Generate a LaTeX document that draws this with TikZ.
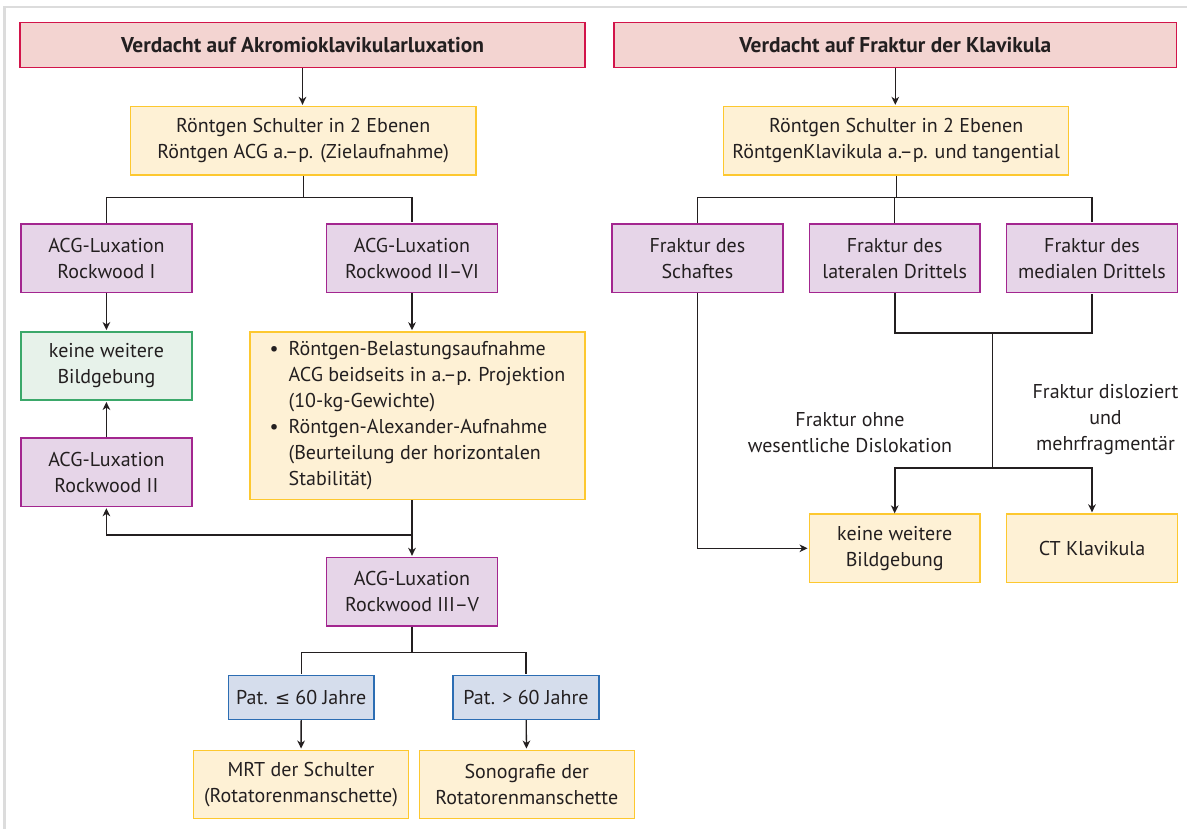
\documentclass[tikz,border=0pt]{standalone}
\usepackage{fontspec}
\setmainfont{PT Sans}
\newfontfamily\symfont{DejaVu Sans}
\usetikzlibrary{arrows.meta, positioning}
\definecolor{ink}{HTML}{231F20}
\definecolor{pinkfill}{HTML}{F3D4D1}
\definecolor{pinkline}{HTML}{D2144A}
\definecolor{yelfill}{HTML}{FEF1D5}
\definecolor{yelline}{HTML}{FDC82F}
\definecolor{purfill}{HTML}{E6D5E8}
\definecolor{purline}{HTML}{A3268F}
\definecolor{grnfill}{HTML}{E7F2EA}
\definecolor{grnline}{HTML}{3BA86A}
\definecolor{blufill}{HTML}{D5DDEC}
\definecolor{bluline}{HTML}{2C6DB3}
\definecolor{framegray}{HTML}{DCDCDC}

\begin{document}
\begin{tikzpicture}[x=0.5pt,y=-0.5pt,->,>={Stealth[length=4pt,width=3.8pt,inset=1.2pt]},
  shorten >=0.5pt,line width=0.65pt,color=ink,
  box/.style={draw,line width=0.75pt,align=center,text=ink,inner sep=2pt,
    font=\fontsize{10}{13}\selectfont,minimum height=34.2pt},
  head node/.style={box,fill=pinkfill,draw=pinkline,minimum height=22.3pt,
    font=\fontsize{10.7}{13}\selectfont\bfseries},
  xray node/.style={box,fill=yelfill,draw=yelline},
  type node/.style={box,fill=purfill,draw=purline,minimum width=85.4pt},
  none node/.style={box,fill=grnfill,draw=grnline,minimum width=85.4pt},
  age node/.style={box,fill=blufill,draw=bluline,minimum width=72.8pt,minimum height=22pt},
  label node/.style={align=center,text=ink,font=\fontsize{10}{13}\selectfont}]
  \useasboundingbox (0,0) rectangle (1188,829);
  \draw[-,framegray,line width=1.2pt] (4.5,829) -- (4.5,7) -- (1188,7);

  \node[head node, minimum width=282.5pt] (tl) at (302.5,45) {Verdacht auf Akromioklavikularluxation};
  \node[xray node, minimum width=172.8pt] (yl) at (303.2,140.8) {Röntgen Schulter in 2 Ebenen\\Röntgen ACG a.–p. (Zielaufnahme)};
  \node[type node] (r1) at (106.4,258.2) {ACG-Luxation\\Rockwood I};
  \node[type node] (r26) at (412,258.2) {ACG-Luxation\\Rockwood II–VI};
  \node[none node] (kw) at (106.4,366) {keine weitere\\Bildgebung};
  \node[type node] (r2) at (106.4,472.3) {ACG-Luxation\\Rockwood II};
  \node[xray node, minimum width=167.3pt, minimum height=83.7pt] (ax) at (417.5,415.7)
    {\begin{tabular}{@{}l@{\hspace{5pt}}l@{}}
     \textbullet & Röntgen-Belastungsaufnahme\\
     & ACG beidseits in a.–p. Projektion\\
     & (10-kg-Gewichte)\\
     \textbullet & Röntgen-Alexander-Aufnahme\\
     & (Beurteilung der horizontalen\\
     & Stabilität)
     \end{tabular}};
  \node[type node] (r35) at (412,591.8) {ACG-Luxation\\Rockwood III–V};
  \node[age node] (p1) at (301.2,697.3) {Pat. {\symfont\fontsize{9}{13}\selectfont ≤} 60 Jahre};
  \node[age node] (p2) at (526,697.3) {Pat. > 60 Jahre};
  \node[xray node, minimum width=107.7pt] (mrt) at (301,784.5) {MRT der Schulter\\(Rotatorenmanschette)};
  \node[xray node, minimum width=107.5pt] (sono) at (526.8,784.5) {Sonografie der\\Rotatorenmanschette};

  \node[head node, minimum width=281.4pt] (tr) at (895.3,45) {Verdacht auf Fraktur der Klavikula};
  \node[xray node, minimum width=172.5pt] (yr) at (896.2,140.8) {Röntgen Schulter in 2 Ebenen\\RöntgenKlavikula a.–p. und tangential};
  \node[type node] (fl) at (894.7,258.2) {Fraktur des\\lateralen Drittels};
  \node[type node] (fs) [left=12.5pt of fl] {Fraktur des\\Schaftes};
  \node[type node] (fm) [right=12.5pt of fl] {Fraktur des\\medialen Drittels};
  \node[xray node, minimum width=85.4pt] (kb) at (894.7,548.3) {keine weitere\\Bildgebung};
  \node[xray node, minimum width=85.4pt] (ct) [right=12.5pt of kb] {CT Klavikula};
  \node[label node] (lo) at (850,433) {Fraktur ohne\\wesentliche Dislokation};
  \node[label node] (ld) at (1105.5,420) {Fraktur disloziert\\und\\mehrfragmentär};

  \draw (tl.south) -- (tl.south |- yl.north);
  \draw[-] (yl.south) -- ++(0,23.3);
  \draw[-] (r1.north) -- ++(0,-26) -| (r26.north);
  \draw (r1) -- (kw);
  \draw (r2) -- (kw);
  \draw (r26.south) -- (r26.south |- ax.north);
  \draw[line width=1pt] (r35 |- ax.south) -- (r35.north);
  \draw[line width=0.8pt] (r35 |- ax.south) -- ++(0,35) -| (r2.south);
  \draw[-] (r35.south) -- ++(0,25.7) -| (p1.north);
  \draw[-] (r35.south) ++(0,25.7) -| (p2.north);
  \draw (p1) -- (mrt);
  \draw (p2) -- (sono);

  \draw (tr.south) -- (tr.south |- yr.north);
  \draw[-] (yr.south) -- ++(0,23.3);
  \draw[-] (fs.north) -- ++(0,-26) -| (fm.north);
  \draw[-] (fl.north) -- ++(0,-26);
  \draw[-,line width=1pt] (fl.south) -- ++(0,39.7) -| (fm.south);
  \draw[-] (fl.south) ++(97.9,39.7) coordinate (jr) -- ++(0,135.6) coordinate (js);
  \draw[<->,line width=1pt] (kb.north) |- (js) -| (ct.north);
  \draw (fs.south) |- (kb.west);
\end{tikzpicture}
\end{document}
